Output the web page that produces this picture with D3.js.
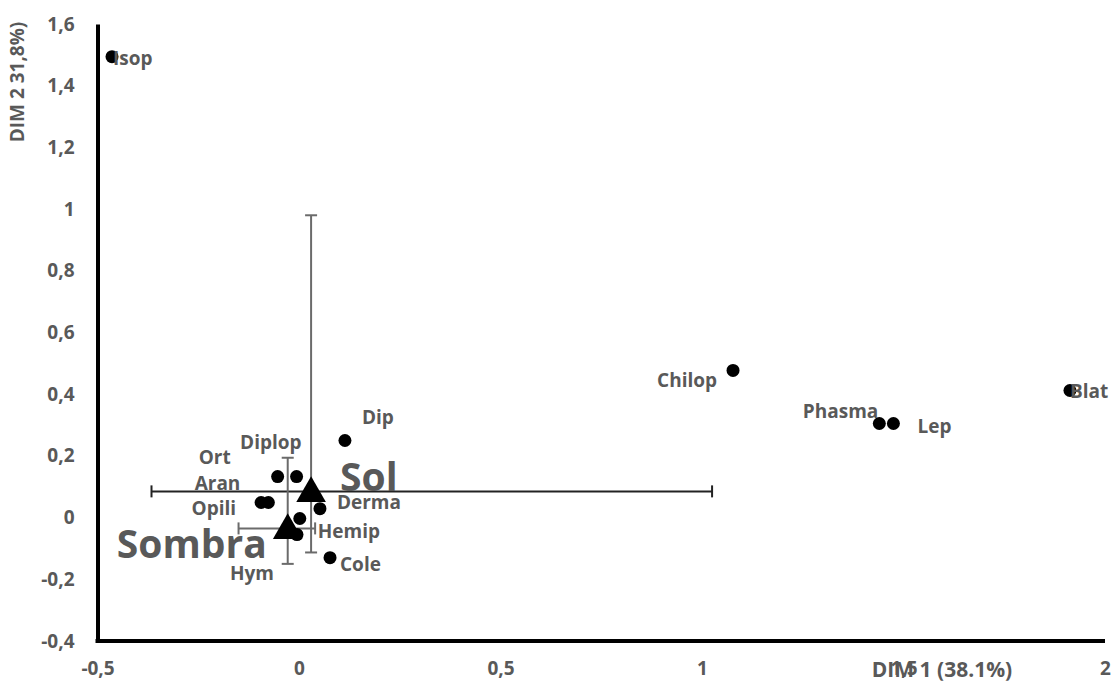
<!DOCTYPE html>
<html>
<head>
<meta charset="utf-8">
<script src="https://cdn.jsdelivr.net/npm/d3@7"></script>
<style>
  body { margin: 0; background: #fff; }
  text { font-family: "Open Sans", sans-serif; font-weight: bold; fill: #595959; }
</style>
</head>
<body>
<svg id="chart" width="1113" height="684"></svg>
<script>
// taxa scores on the two dimensions
var species = ['Isop', 'Chilop', 'Phasma', 'Lep', 'Blat', 'Dip', 'Ort', 'Diplop',
               'Aran', 'Opili', 'Derma', 'Hemip', 'Cole', 'Hym'];
var dim1 = [-0.464, 1.077, 1.440, 1.475, 1.913, 0.114, -0.053, -0.006,
            -0.076, -0.094, 0.052, 0.002, 0.077, -0.005];
var dim2 = [1.494, 0.477, 0.305, 0.305, 0.412, 0.250, 0.133, 0.133,
            0.049, 0.049, 0.029, -0.003, -0.130, -0.055];

// habitat centroids with their ranges
var groups = ['Sol', 'Sombra'];
var groupX = [0.030, -0.028];
var groupY = [0.085, -0.035];
var groupXLow = [-0.366, -0.150];
var groupXHigh = [1.025, 0.040];
var groupYLow = [-0.113, -0.150];
var groupYHigh = [0.980, 0.194];

var xTicks = [-0.5, 0, 0.5, 1, 1.5, 2];
var yTicks = [-0.4, -0.2, 0, 0.2, 0.4, 0.6, 0.8, 1, 1.2, 1.4, 1.6];
var xTitle = 'DIM 1 (38.1%)';
var yTitle = 'DIM 2 31,8%)';

// label placement (px from the point): [dx, dy, anchor]
var labelPlace = [[1, 1, 'start'], [-16, 10, 'end'], [-1, -12, 'end'], [24, 3, 'start'],
                  [0, 1, 'start'], [17, -23, 'start'], [-47, -19, 'end'], [5, -34, 'end'],
                  [-28, -19, 'end'], [-25, 6, 'end'], [17, -6, 'start'], [18, 13, 'start'],
                  [10, 6, 'start'], [-23, 39, 'end']];
var groupLabelPlace = [[29, 0, 'start'], [-21, 30, 'end']];

var svg = d3.select('#chart');
var margin = {top: 24, right: 8, bottom: 43, left: 97.5};
var W = 1113, H = 684;

var x = d3.scaleLinear().domain([-0.5, 2]).range([margin.left, W - margin.right]);
var y = d3.scaleLinear().domain([-0.4, 1.6]).range([H - margin.bottom, margin.top]);

function fmt(v) { return String(v).replace('.', ','); }

// axes
var gx = svg.append('g')
  .attr('transform', 'translate(0,' + y(-0.4) + ')')
  .call(d3.axisBottom(x).tickValues(xTicks).tickFormat(fmt).tickSize(0).tickPadding(21));
var gy = svg.append('g')
  .attr('transform', 'translate(' + x(-0.5) + ',0)')
  .call(d3.axisLeft(y).tickValues(yTicks).tickFormat(fmt).tickSize(0).tickPadding(23));

[gx, gy].forEach(function (g) {
  g.select('.domain').attr('stroke', '#000').attr('stroke-width', 4);
  g.selectAll('text').attr('font-size', 19).attr('fill', '#595959')
    .style('font-family', '"Open Sans", sans-serif').style('font-weight', 'bold');
});
gx.select('.domain').attr('d', 'M' + (x(-0.5) - 2) + ',0H' + x(2));

svg.append('text')
  .attr('x', 942).attr('y', y(-0.4) + 28)
  .attr('dy', '0.36em')
  .attr('text-anchor', 'middle')
  .attr('font-size', 21)
  .text(xTitle);

svg.append('text')
  .attr('transform', 'translate(17,82) rotate(-90)')
  .attr('dy', '0.36em')
  .attr('text-anchor', 'middle')
  .attr('font-size', 19)
  .text(yTitle);

// error bars
var cap = 6;
groups.forEach(function (g, i) {
  var eb = svg.append('g');
  var hColor = i === 0 ? '#222' : '#6b6b6b';
  var vColor = '#6b6b6b';
  var cy = y(groupY[i]), cx = x(groupX[i]);
  eb.append('line').attr('x1', x(groupXLow[i])).attr('x2', x(groupXHigh[i]))
    .attr('y1', cy).attr('y2', cy).attr('stroke', hColor).attr('stroke-width', 2);
  [groupXLow[i], groupXHigh[i]].forEach(function (v) {
    eb.append('line').attr('x1', x(v)).attr('x2', x(v))
      .attr('y1', cy - cap).attr('y2', cy + cap).attr('stroke', hColor).attr('stroke-width', 2);
  });
  eb.append('line').attr('x1', cx).attr('x2', cx)
    .attr('y1', y(groupYLow[i])).attr('y2', y(groupYHigh[i])).attr('stroke', vColor).attr('stroke-width', 2);
  [groupYLow[i], groupYHigh[i]].forEach(function (v) {
    eb.append('line').attr('x1', cx - cap).attr('x2', cx + cap)
      .attr('y1', y(v)).attr('y2', y(v)).attr('stroke', vColor).attr('stroke-width', 2);
  });
});

// species points
svg.append('g').selectAll('circle')
  .data(species)
  .join('circle')
  .attr('cx', function (d, i) { return x(dim1[i]); })
  .attr('cy', function (d, i) { return y(dim2[i]); })
  .attr('r', 6.5)
  .attr('fill', '#000');

svg.append('g').selectAll('text')
  .data(species)
  .join('text')
  .attr('x', function (d, i) { return x(dim1[i]) + labelPlace[i][0]; })
  .attr('y', function (d, i) { return y(dim2[i]) + labelPlace[i][1]; })
  .attr('dy', '0.36em')
  .attr('text-anchor', function (d, i) { return labelPlace[i][2]; })
  .attr('font-size', 19)
  .text(function (d) { return d; });

// centroids
var tri = d3.symbol().type(d3.symbolTriangle).size(380);
svg.append('g').selectAll('path')
  .data(groups)
  .join('path')
  .attr('d', tri)
  .attr('transform', function (d, i) {
    return 'translate(' + x(groupX[i]) + ',' + (y(groupY[i]) + 2) + ')';
  })
  .attr('fill', '#000');

svg.append('g').selectAll('text')
  .data(groups)
  .join('text')
  .attr('x', function (d, i) { return x(groupX[i]) + groupLabelPlace[i][0]; })
  .attr('y', function (d, i) { return y(groupY[i]) + groupLabelPlace[i][1]; })
  .attr('text-anchor', function (d, i) { return groupLabelPlace[i][2]; })
  .attr('font-size', 39)
  .text(function (d) { return d; });
</script>
</body>
</html>
